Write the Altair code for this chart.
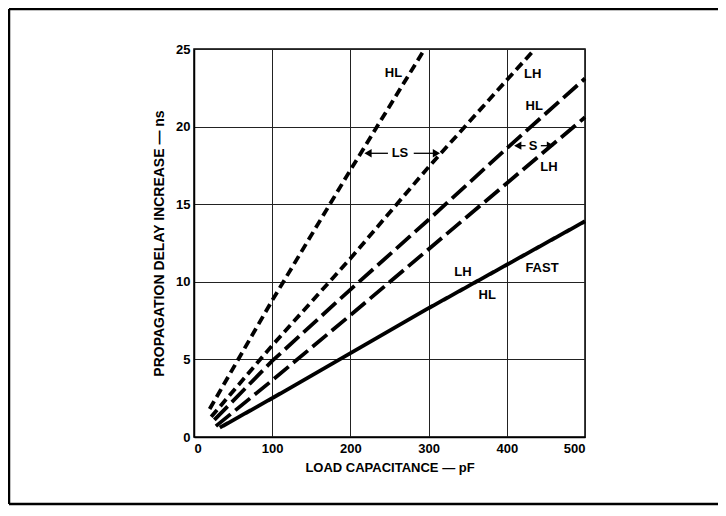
import altair as alt
import pandas as pd

# ---- data ----
ls_hl_x = [20, 100, 200, 295]
ls_hl_y = [1.8, 8.8, 17.2, 25.0]
ls_lh_x = [22, 100, 200, 300, 400, 436]
ls_lh_y = [1.3, 5.9, 11.5, 17.4, 23.0, 25.0]
s_hl_x = [26, 100, 200, 300, 400, 500]
s_hl_y = [1.1, 4.9, 9.5, 14.0, 18.6, 23.1]
s_lh_x = [28, 100, 200, 300, 400, 500]
s_lh_y = [0.7, 3.65, 7.85, 12.1, 16.35, 20.6]
fast_x = [33, 100, 200, 300, 400, 500]
fast_y = [0.6, 2.5, 5.4, 8.3, 11.1, 13.9]

label_text = ["HL", "LH", "HL", "LH", "LH", "HL", "FAST", "LS", "S"]
label_x = [255, 433, 435, 454, 344, 375, 445, 263.4, 433.7]
label_y = [23.47, 23.4, 21.3, 17.4, 10.65, 9.15, 10.9, 18.28, 18.77]

arrow_x1 = [248, 281, 424, 443.5]
arrow_x2 = [222.5, 310.0, 414.0, 455.8]
arrow_y = [18.28, 18.28, 18.77, 18.77]
arrow_dir = ["left", "right", "left", "right"]

x_ticks = [0, 100, 200, 300, 400, 500]
y_ticks = [0, 5, 10, 15, 20, 25]

series = [
    ("LS HL", "short", ls_hl_x, ls_hl_y),
    ("LS LH", "short", ls_lh_x, ls_lh_y),
    ("S HL", "long", s_hl_x, s_hl_y),
    ("S LH", "long", s_lh_x, s_lh_y),
    ("FAST", "solid", fast_x, fast_y),
]
rows = []
for name, style, xs, ys in series:
    for i, (a, b) in enumerate(zip(xs, ys)):
        rows.append({"series": name, "style": style, "x": a, "y": b, "order": i})
lines_df = pd.DataFrame(rows)
labels_df = pd.DataFrame({"text": label_text, "x": label_x, "y": label_y})
arrows_df = pd.DataFrame({"x1": arrow_x1, "x2": arrow_x2, "y": arrow_y, "dir": arrow_dir})

FONT = "Liberation Sans"

xscale = alt.Scale(domain=[0, 500], nice=False, zero=True)
yscale = alt.Scale(domain=[0, 25], nice=False, zero=True)

xaxis = alt.Axis(values=x_ticks, title="LOAD CAPACITANCE — pF", grid=True,
                 tickSize=0, labelPadding=5, titlePadding=6, format="d", titleFontSize=13)
yaxis = alt.Axis(values=y_ticks, title="PROPAGATION DELAY INCREASE — ns", grid=True,
                 tickSize=0, labelPadding=4, titlePadding=9, format="d", titleFontSize=14)

lines = alt.Chart(lines_df).mark_line(color="black", strokeWidth=3.8, strokeCap="butt").encode(
    x=alt.X("x:Q", scale=xscale, axis=xaxis),
    y=alt.Y("y:Q", scale=yscale, axis=yaxis),
    detail="series:N",
    order="order:Q",
    strokeDash=alt.StrokeDash("style:N", legend=None,
                              scale=alt.Scale(domain=["short", "long", "solid"],
                                              range=[[9, 5], [19, 6], [1, 0]])),
)

labels = alt.Chart(labels_df).mark_text(font=FONT, fontWeight="bold", fontSize=13,
                                        color="black", align="center", baseline="middle").encode(
    x=alt.X("x:Q", scale=xscale), y=alt.Y("y:Q", scale=yscale), text="text:N")

arrow_lines = alt.Chart(arrows_df).mark_rule(color="black", strokeWidth=1.3).encode(
    x=alt.X("x1:Q", scale=xscale), x2="x2:Q", y=alt.Y("y:Q", scale=yscale))

heads = alt.Chart(arrows_df).mark_point(filled=True, color="black", opacity=1, size=70).encode(
    x=alt.X("x2:Q", scale=xscale), y=alt.Y("y:Q", scale=yscale),
    shape=alt.Shape("dir:N", legend=None,
                    scale=alt.Scale(domain=["left", "right"], range=["triangle-left", "triangle-right"])))

frame_left = alt.Chart(pd.DataFrame({"a": [0]})).mark_rule(color="black", strokeWidth=2.5).encode(
    x=alt.value(-185), y=alt.value(-40), y2=alt.value(455))
frame_top = alt.Chart(pd.DataFrame({"a": [0]})).mark_rule(color="black", strokeWidth=2.5).encode(
    x=alt.value(-185), x2=alt.value(524), y=alt.value(-40))
frame_bottom = alt.Chart(pd.DataFrame({"a": [0]})).mark_rule(color="black", strokeWidth=2.5).encode(
    x=alt.value(-185), x2=alt.value(524), y=alt.value(455))

chart = alt.layer(lines, arrow_lines, heads, labels, frame_left, frame_top, frame_bottom).properties(
    width=391, height=388,
    autosize=alt.AutoSizeParams(type="none"),
    padding={"left": 186, "top": 41, "right": 133, "bottom": 69},
    background="white",
).configure_view(stroke="black", strokeWidth=1.5).configure_axis(
    labelFont=FONT, labelFontWeight="bold", labelFontSize=13, labelColor="black",
    titleFont=FONT, titleFontWeight="bold", titleColor="black",
    gridColor="#222222", gridWidth=1, gridOpacity=1,
    domainColor="black", domainWidth=1.5,
)

chart.save("out.html", embed_options={"renderer": "svg", "actions": False})
